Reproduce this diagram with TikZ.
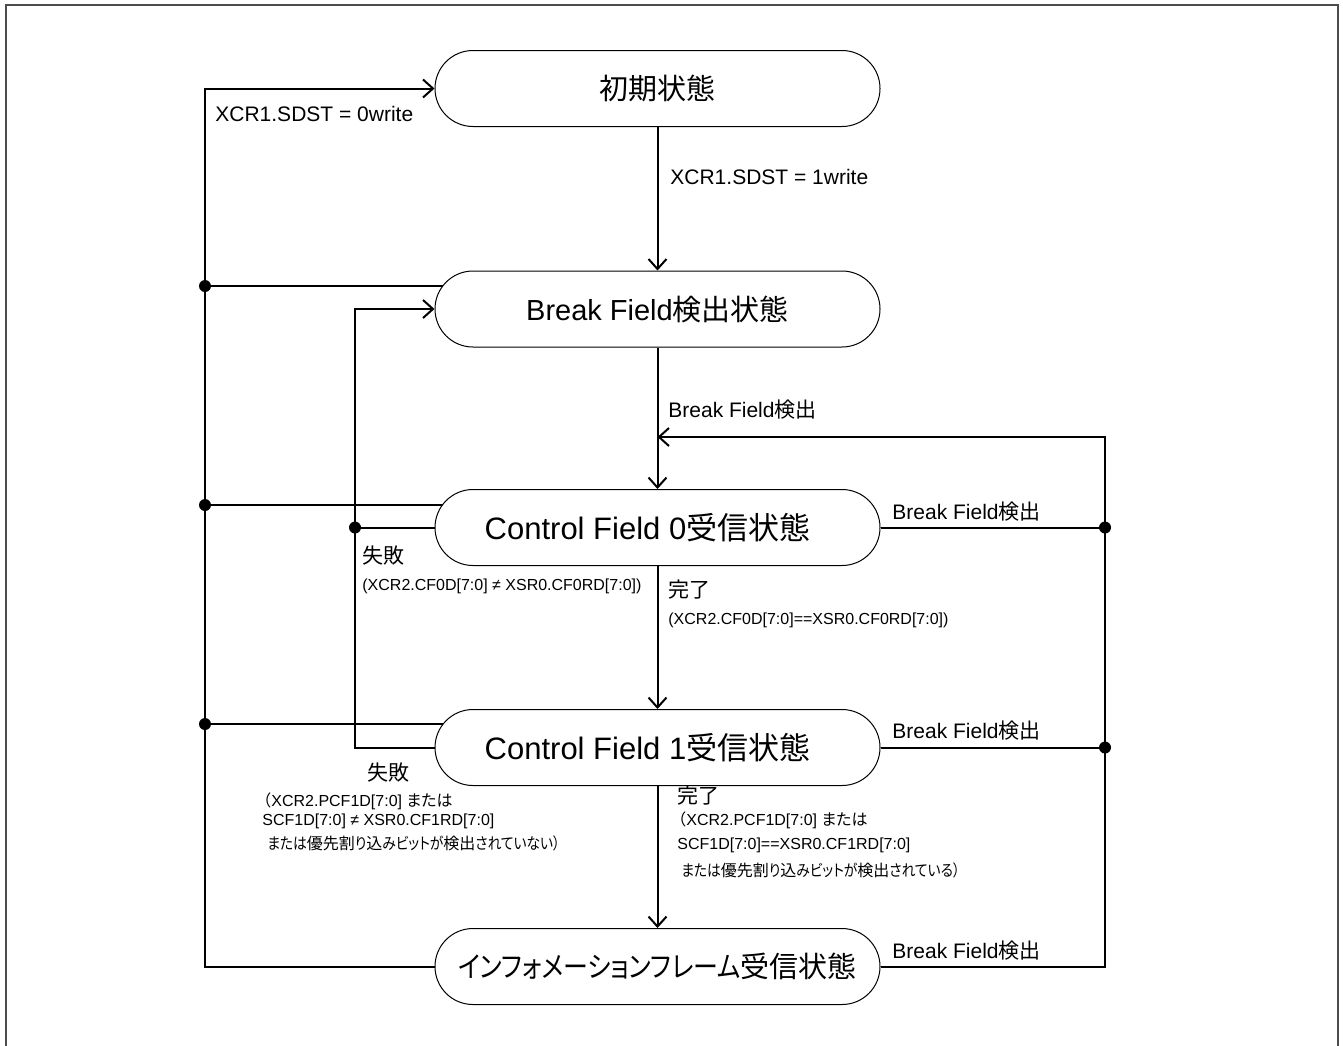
\documentclass[tikz,border=0pt]{standalone}
\usepackage{fontspec}
\setmainfont{Liberation Sans}
\newfontfamily\jpfont[RawFeature=+palt]{Noto Sans CJK JP}
\newfontfamily\jpfullfont{Noto Sans CJK JP}
\newfontfamily\kanafont[RawFeature=+palt,FakeStretch=0.86]{Noto Sans CJK JP}
\newcommand\J[1]{{\jpfont #1}}
\newcommand\JF[1]{{\jpfullfont #1}}
\newcommand\K[1]{{\kanafont #1}}
\usetikzlibrary{arrows.meta,backgrounds}
\begin{document}
\begin{tikzpicture}[x=0.5pt,y=-0.5pt,
  state/.style={draw, line width=0.5pt, fill=white, rounded corners=19pt,
    minimum width=222.5pt, minimum height=38pt, inner sep=0pt,
    font=\fontsize{14.5}{17}\selectfont},
  bigstate/.style={state, font=\fontsize{15.5}{18}\selectfont},
  conn/.style={line width=1pt},
  arr/.style={conn, -{Straight Barb[length=5pt,width=9pt]}},
  lbl/.style={inner sep=0pt, anchor=west, font=\fontsize{10.5}{12}\selectfont},
  sml/.style={inner sep=0pt, anchor=west, font=\fontsize{8}{10}\selectfont},
  dot/.style={circle, fill, inner sep=0pt, minimum size=6pt}
]
\useasboundingbox (0,0) rectangle (1343,1045);
\draw[line width=1pt, black!70] (6,1050) -- (6,5) -- (1338,5) -- (1338,1050);

% states
\node[state] (init) at (657.5,88.5) {\J{初期状態}};
\node[state] (bf)   at (657.5,309)  {Break Field\J{検出状態}};
\node[bigstate] (cf0)  at (657.5,527.5) {\hspace*{-10pt}Control Field 0\J{受信状態}};
\node[bigstate] (cf1)  at (657.5,747.5) {\hspace*{-10pt}Control Field 1\J{受信状態}};
\node[state] (info) at (657.5,966.5) {\K{インフォメーションフレーム}\J{受信状態}};

% junctions and corners
\coordinate (L0) at (205,88.5);
\node[dot] (dL1) at (205,286) {};
\node[dot] (dL2) at (205,505) {};
\node[dot] (dL3) at (205,724) {};
\coordinate (L4) at (205,966.5);
\node[dot] (dM) at (355,527.5) {};
\coordinate (Mtop) at (355,309);
\coordinate (Mbot) at (355,747.5);
\node[dot] (dR1) at (1105,527.5) {};
\node[dot] (dR2) at (1105,747.5) {};
\coordinate (Rbot) at (1105,966.5);
\coordinate (Rtop) at (1105,437);
\coordinate (Rtip) at (657.5,437);

\begin{scope}[on background layer]
\draw[conn] (dL1.center) -- (dL1 -| bf.center);
\draw[conn] (dL2.center) -- (dL2 -| cf0.center);
\draw[conn] (dL3.center) -- (dL3 -| cf1.center);
\end{scope}

\draw[arr] (info.west) -- (L4) -- (L0) -- (init.west);
\draw[conn] (cf0.west) -- (dM.center);
\draw[arr] (cf1.west) -- (Mbot) -- (Mtop) -- (bf.west);
\draw[conn] (cf0.east) -- (dR1.center);
\draw[conn] (cf1.east) -- (dR2.center);
\draw[arr] (info.east) -- (Rbot) -- (Rtop) -- (Rtip);

\draw[arr] (init) -- (bf);
\draw[arr] (bf) -- (cf0);
\draw[arr] (cf0) -- (cf1);
\draw[arr] (cf1) -- (info);

% labels
\node[lbl] (t0) at (215,114) {XCR1.SDST = 0write};
\node[lbl] (t1) at (670,177) {XCR1.SDST = 1write};
\node[lbl] (t2) at (668,410) {Break Field\J{検出}};
\node[lbl] (t3) at (892,512) {Break Field\J{検出}};
\node[lbl] (t4) at (892,731) {Break Field\J{検出}};
\node[lbl] (t5) at (892,951) {Break Field\J{検出}};

\node[lbl] (f0) at (362,556) {\J{失敗}};
\node[sml] (f0c) at (362,586) {(XCR2.CF0D[7:0] ≠ XSR0.CF0RD[7:0])};
\node[lbl] (k0) at (668,590) {\J{完了}};
\node[sml] (k0c) at (668,620) {(XCR2.CF0D[7:0]==XSR0.CF0RD[7:0])};

\node[lbl] (f1) at (367,773) {\J{失敗}};
\node[sml] (f1a) at (255,801) {\JF{（}XCR2.PCF1D[7:0] \J{または}};
\node[sml] (f1b) at (262,821) {SCF1D[7:0] ≠ XSR0.CF1RD[7:0]};
\node[sml] (f1c) at (267,843) {\K{または}\J{優先割}\K{り}\J{込}\K{みビットが}\J{検出}\K{されていない）}};

\node[lbl] (k1) at (677,796) {\J{完了}};
\node[sml] (k1a) at (670,820) {\JF{（}XCR2.PCF1D[7:0] \J{または}};
\node[sml] (k1b) at (677,845) {SCF1D[7:0]==XSR0.CF1RD[7:0]};
\node[sml] (k1c) at (681,870) {\K{または}\J{優先割}\K{り}\J{込}\K{みビットが}\J{検出}\K{されている）}};
\end{tikzpicture}
\end{document}
